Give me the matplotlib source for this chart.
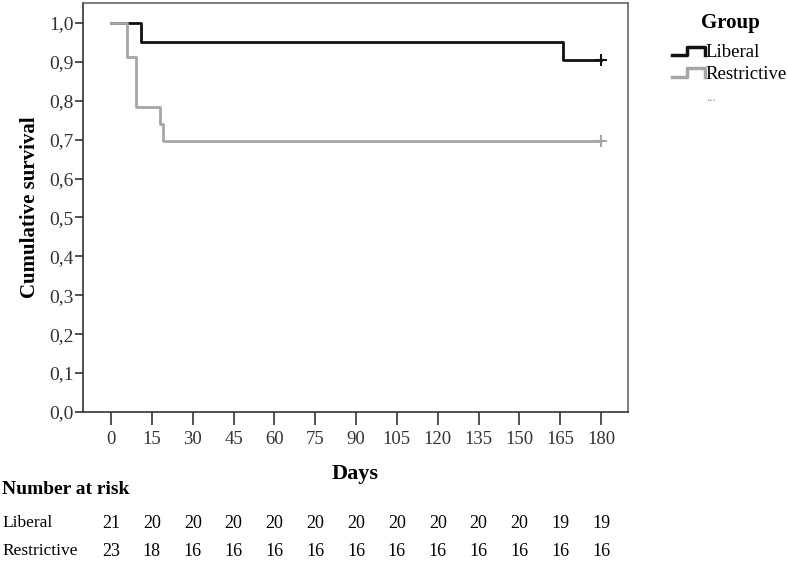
import matplotlib
matplotlib.use('Agg')
import matplotlib.pyplot as plt
from matplotlib.legend_handler import HandlerBase
from matplotlib.lines import Line2D
import matplotlib.transforms as mtransforms

plt.rcParams['font.family'] = ['Liberation Serif', 'DejaVu Serif']

# Kaplan-Meier step data (days, survival)
lib_t = [0, 11, 166, 180]
lib_s = [1.0, 0.952, 0.905, 0.905]
res_t = [0, 6, 9, 18, 19, 180]
res_s = [1.0, 0.913, 0.783, 0.739, 0.696, 0.696]

ticks_x = [0, 15, 30, 45, 60, 75, 90, 105, 120, 135, 150, 165, 180]
ticks_y = [0.0, 0.1, 0.2, 0.3, 0.4, 0.5, 0.6, 0.7, 0.8, 0.9, 1.0]
risk_lib = [21, 20, 20, 20, 20, 20, 20, 20, 20, 20, 20, 19, 19]
risk_res = [23, 18, 16, 16, 16, 16, 16, 16, 16, 16, 16, 16, 16]

black = '#111111'
grey = '#a6a6a6'

fig = plt.figure(figsize=(7.87, 5.67), dpi=100)
ax = fig.add_axes([83 / 787, 1 - 412 / 567, 545 / 787, 409 / 567])

ax.step(lib_t, lib_s, where='post', color=black, lw=2.0)
ax.step(res_t, res_s, where='post', color=grey, lw=2.0)
# censored marks at end
ax.plot([lib_t[-1]], [lib_s[-1]], marker='+', ms=9, mew=1.5, color=black)
ax.plot([res_t[-1]], [res_s[-1]], marker='+', ms=9, mew=1.5, color=grey)

ax.set_xlim(-10.3, 189.9)
ax.set_ylim(0, 1.051)
ax.set_xticks(ticks_x)
ax.set_yticks(ticks_y)
ax.set_xticklabels([str(t) for t in ticks_x])
ax.set_yticklabels([('%.1f' % v).replace('.', ',') for v in ticks_y])
ax.tick_params(axis='both', direction='out', width=1.2, colors='#333333',
               labelsize=14, labelcolor='#333333')
ax.tick_params(axis='x', length=9, pad=5, labelsize=13.5)
ax.tick_params(axis='y', length=6, pad=1)
for sp in ax.spines.values():
    sp.set_color('#666666')
    sp.set_linewidth(1.2)
ax.spines['bottom'].set_color('#333333')
ax.spines['left'].set_color('#333333')

ax.set_ylabel('Cumulative survival', fontsize=15, fontweight='bold', labelpad=6)
ax.set_xlabel('Days', fontsize=16, fontweight='bold', labelpad=11)

# number at risk table
trans = mtransforms.blended_transform_factory(ax.transData, fig.transFigure)
fig.text(0.003, 1 - 490 / 567, 'Number at risk', fontsize=14, fontweight='bold', va='center')
fig.text(0.003, 1 - 523 / 567, 'Liberal', fontsize=12.5, va='center')
fig.text(0.003, 1 - 551 / 567, 'Restrictive', fontsize=12.5, va='center')
for x, a, b in zip(ticks_x, risk_lib, risk_res):
    ax.text(x, 1 - 523 / 567, str(a), transform=trans, ha='center', va='center', fontsize=13)
    ax.text(x, 1 - 551 / 567, str(b), transform=trans, ha='center', va='center', fontsize=13)


class StepHandler(HandlerBase):
    def create_artists(self, legend, orig_handle, xdescent, ydescent, width, height, fontsize, trans):
        w, h = width, height
        xs = [-xdescent, w * 0.45, w * 0.45, w, w]
        ys = [h * 0.15, h * 0.15, h * 0.8, h * 0.8, h * 0.15]
        ln = Line2D(xs, ys, color=orig_handle.get_color(), lw=2.5, transform=trans)
        return [ln]


h1 = Line2D([], [], color=black)
h2 = Line2D([], [], color=grey)
h3 = Line2D([], [], color='none')
leg = fig.legend([h1, h2, h3], ['Liberal', 'Restrictive', '...'],
                 handler_map={Line2D: StepHandler()},
                 loc='upper left', bbox_to_anchor=(672 / 787, 1 - 44 / 567),
                 frameon=False, fontsize=13.5, handlelength=1.75, handletextpad=0.05,
                 labelspacing=0.25, borderpad=0, borderaxespad=0)
leg.get_texts()[2].set_fontsize(9)
leg.get_texts()[2].set_color('#888888')
fig.text(730 / 787, 1 - 23 / 567, 'Group', fontsize=15, fontweight='bold', ha='center', va='center')

fig.savefig('out.png', dpi=100)
